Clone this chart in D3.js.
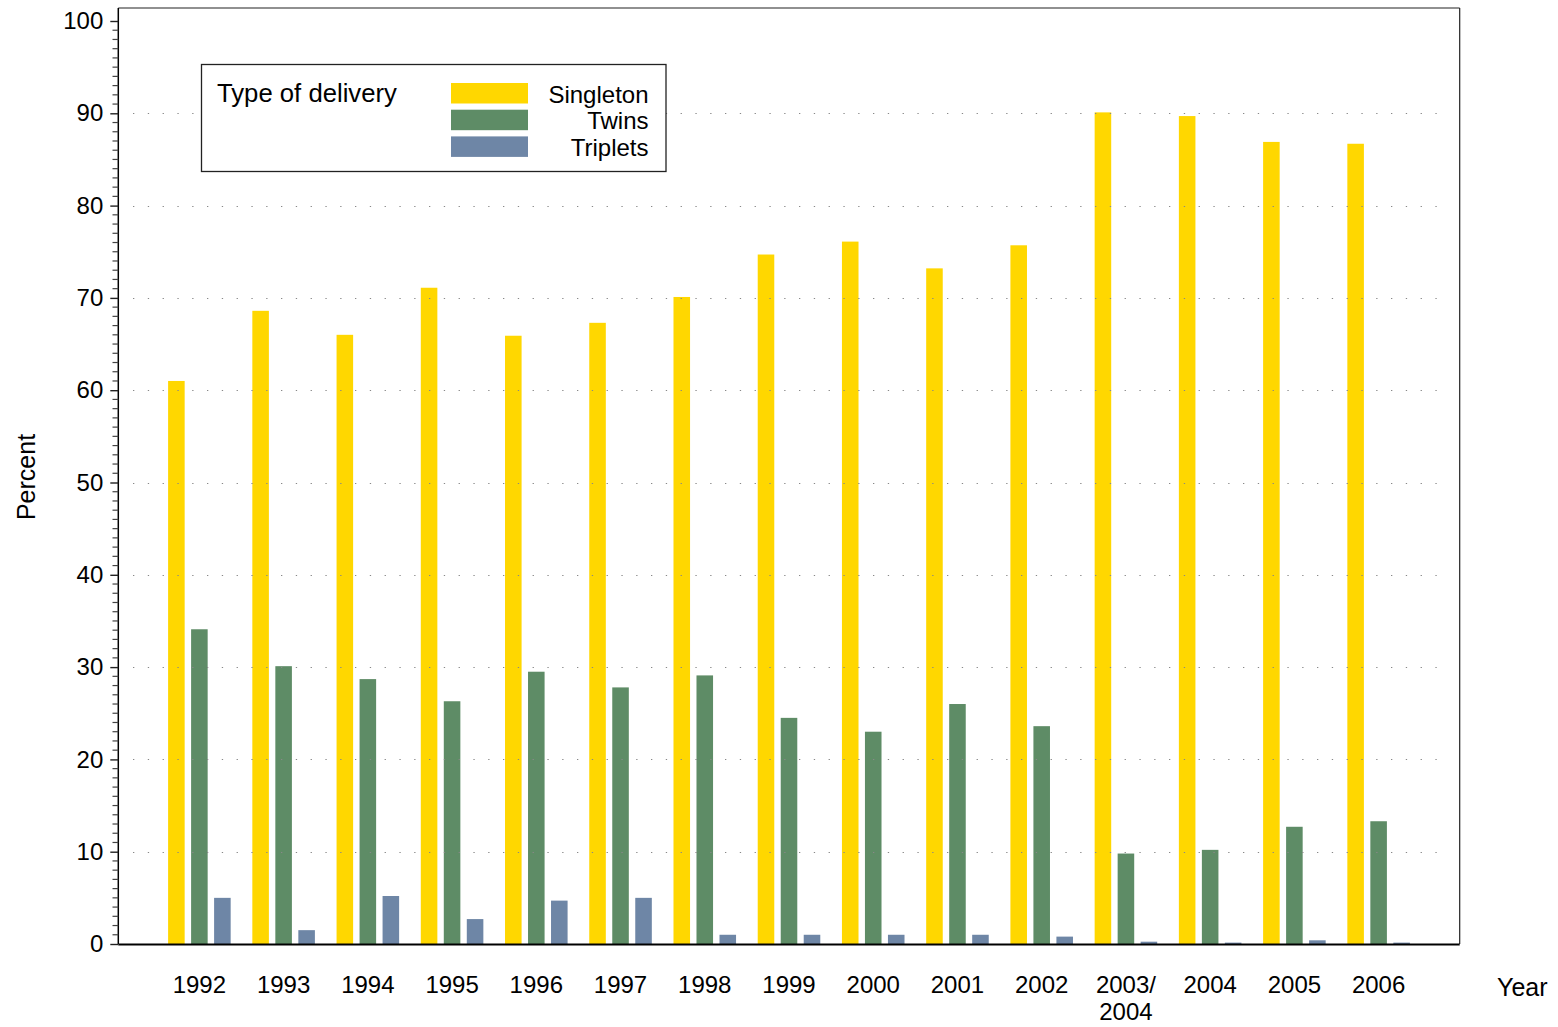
<!DOCTYPE html>
<html>
<head>
<meta charset="utf-8">
<script src="https://cdn.jsdelivr.net/npm/d3@7/dist/d3.min.js"></script>
<style>
  html, body { margin: 0; padding: 0; background: #fff; }
  svg { display: block; font-family: "Liberation Sans", Arial, sans-serif; }
</style>
</head>
<body>
<svg id="chart" width="1558" height="1027"></svg>
<script>
const years = ["1992","1993","1994","1995","1996","1997","1998","1999","2000","2001","2002","2003/\n2004","2004","2005","2006"];
const seriesNames = ["Singleton","Twins","Triplets"];
const singleton = [61.0,68.6,66.0,71.1,65.9,67.3,70.1,74.7,76.1,73.2,75.7,90.1,89.7,86.9,86.7];
const twins     = [34.1,30.1,28.7,26.3,29.5,27.8,29.1,24.5,23.0,26.0,23.6,9.8,10.2,12.7,13.3];
const triplets  = [5.0,1.5,5.2,2.7,4.7,5.0,1.0,1.0,1.0,1.0,0.8,0.25,0.15,0.4,0.15];
const colors = ["#FFD700","#5E8C66","#6E86A6"];
const yTicks = [0,10,20,30,40,50,60,70,80,90,100];
const gridValues = [10,20,30,40,50,60,70,80,90];
const legendTitle = "Type of delivery";
const yTitle = "Percent";
const xTitle = "Year";

const svg = d3.select("#chart");
const L = 118.3, R = 1459.7, T = 8, B = 944;

const y = d3.scaleLinear().domain([0,100]).range([B, 21]);
const x0 = d3.scaleBand().domain(years).range([L, R]).paddingInner(0).paddingOuter(0.4626);
const x1 = d3.scaleBand().domain(seriesNames).range([0, x0.bandwidth()]).paddingInner(0.28).paddingOuter(0.471);

const data = years.map((yr, i) => ({
  year: yr,
  values: [singleton[i], twins[i], triplets[i]].map((v, j) => ({ key: seriesNames[j], value: v, color: colors[j] }))
}));

// bars
const groups = svg.append("g").selectAll("g").data(data).join("g")
  .attr("transform", d => `translate(${x0(d.year)},0)`);
groups.selectAll("rect").data(d => d.values).join("rect")
  .attr("x", d => x1(d.key))
  .attr("width", x1.bandwidth())
  .attr("y", d => y(d.value))
  .attr("height", d => B - y(d.value))
  .attr("fill", d => d.color);

// dotted gridlines (on top of bars)
svg.append("g").selectAll("line").data(gridValues).join("line")
  .attr("x1", 133).attr("x2", 1450)
  .attr("y1", d => Math.round(y(d)) + 0.5).attr("y2", d => Math.round(y(d)) + 0.5)
  .attr("stroke", "#888").attr("stroke-width", 1.2)
  .attr("stroke-dasharray", "1.3 13.5");

// frame
svg.append("line").attr("x1", L).attr("x2", R).attr("y1", T).attr("y2", T).attr("stroke", "#222").attr("stroke-width", 1.2);
svg.append("line").attr("x1", R).attr("x2", R).attr("y1", T).attr("y2", B).attr("stroke", "#222").attr("stroke-width", 1.2);
svg.append("line").attr("x1", L).attr("x2", R).attr("y1", B + 0.5).attr("y2", B + 0.5).attr("stroke", "#000").attr("stroke-width", 2);
svg.append("line").attr("x1", L).attr("x2", L).attr("y1", T).attr("y2", B).attr("stroke", "#000").attr("stroke-width", 1.5);

// y axis: minor ticks
const minor = d3.range(0, 101, 1).filter(v => v % 10 !== 0);
svg.append("g").selectAll("line").data(minor).join("line")
  .attr("x1", 112.5).attr("x2", L)
  .attr("y1", d => y(d)).attr("y2", d => y(d))
  .attr("stroke", "#444").attr("stroke-width", 1.2);

const yAxis = d3.axisLeft(y).tickValues(yTicks).tickSize(8).tickPadding(7).tickFormat(d3.format("d"));
const ga = svg.append("g").attr("transform", `translate(${L},0)`).call(yAxis);
ga.select(".domain").remove();
ga.selectAll(".tick line").attr("stroke", "#222").attr("stroke-width", 1.4);
ga.selectAll(".tick text").attr("font-size", 24).attr("fill", "#000")
  .attr("font-family", "Liberation Sans, Arial, sans-serif");

// x labels
const xl = svg.append("g").selectAll("text").data(years).join("text")
  .attr("x", d => x0(d) + x0.bandwidth() / 2)
  .attr("y", 993)
  .attr("text-anchor", "middle")
  .attr("font-size", 24)
  .attr("fill", "#000");
xl.each(function(d) {
  const lines = d.split("\n");
  const t = d3.select(this);
  lines.forEach((ln, i) => {
    t.append("tspan").attr("x", x0(d) + x0.bandwidth() / 2).attr("dy", i === 0 ? 0 : 27).text(ln);
  });
});

// axis titles
svg.append("text").attr("x", 1497).attr("y", 996).attr("font-size", 25).attr("fill", "#000").text(xTitle);
svg.append("text").attr("transform", "translate(35,477) rotate(-90)").attr("text-anchor", "middle")
  .attr("font-size", 25).attr("fill", "#000").text(yTitle);

// legend
const lg = svg.append("g");
lg.append("rect").attr("x", 201.5).attr("y", 64.5).attr("width", 464.5).attr("height", 107)
  .attr("fill", "#fff").attr("stroke", "#222").attr("stroke-width", 1.3);
lg.append("text").attr("x", 217).attr("y", 102).attr("font-size", 25.7).attr("fill", "#000").text(legendTitle);
seriesNames.forEach((s, i) => {
  lg.append("rect").attr("x", 451).attr("y", 83 + i * 26.7).attr("width", 77).attr("height", 20.5).attr("fill", colors[i]);
  lg.append("text").attr("x", 648.5).attr("y", 102.7 + i * 26.7).attr("text-anchor", "end")
    .attr("font-size", 24).attr("fill", "#000").text(s);
});
</script>
</body>
</html>
